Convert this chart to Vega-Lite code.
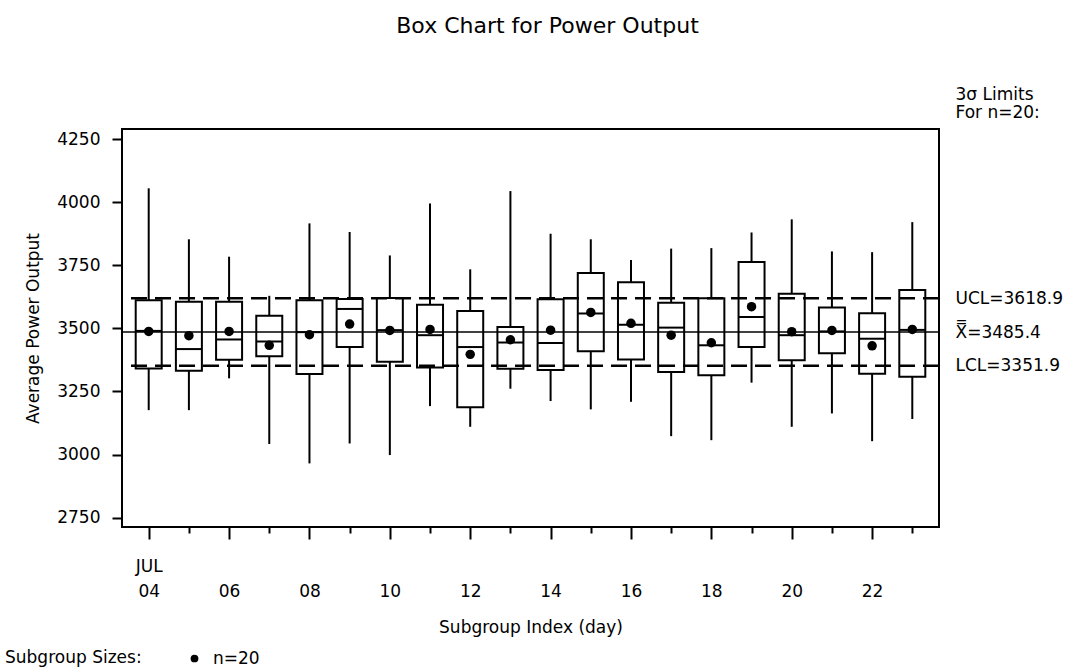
{
  "$schema": "https://vega.github.io/schema/vega-lite/v6.json",
  "autosize": "none",
  "width": 817,
  "height": 398,
  "padding": {"left": 122, "top": 129, "right": 135, "bottom": 145},
  "background": "white",
  "title": {
    "text": "Box Chart for Power Output",
    "font": "DejaVu Sans",
    "fontSize": 22,
    "fontWeight": "normal",
    "color": "black",
    "anchor": "middle",
    "frame": "group",
    "dx": 17,
    "offset": 47
  },
  "config": {
    "view": {"stroke": "black", "strokeWidth": 2},
    "axis": {
      "labelFont": "DejaVu Sans",
      "titleFont": "DejaVu Sans",
      "labelColor": "black",
      "titleColor": "black",
      "tickColor": "black",
      "labelFontSize": 17,
      "titleFontSize": 17,
      "titleFontWeight": "normal",
      "grid": false,
      "domain": false,
      "tickWidth": 2
    },
    "legend": {
      "labelFont": "DejaVu Sans",
      "titleFont": "DejaVu Sans"
    }
  },
  "datasets": {
    "boxes": [
      {"day": 4, "min": 3176, "q1": 3341, "median": 3490, "q3": 3611, "max": 4055, "mean": 3488},
      {"day": 5, "min": 3176, "q1": 3332, "median": 3418, "q3": 3606, "max": 3853, "mean": 3471},
      {"day": 6, "min": 3302, "q1": 3376, "median": 3456, "q3": 3606, "max": 3784, "mean": 3488},
      {"day": 7, "min": 3042, "q1": 3390, "median": 3448, "q3": 3550, "max": 3629, "mean": 3433},
      {"day": 8, "min": 2965, "q1": 3319, "median": 3485, "q3": 3611, "max": 3916, "mean": 3475},
      {"day": 9, "min": 3044, "q1": 3426, "median": 3577, "q3": 3616, "max": 3882, "mean": 3517},
      {"day": 10, "min": 2998, "q1": 3368, "median": 3493, "q3": 3620, "max": 3789, "mean": 3492},
      {"day": 11, "min": 3192, "q1": 3345, "median": 3473, "q3": 3594, "max": 3995, "mean": 3496},
      {"day": 12, "min": 3110, "q1": 3187, "median": 3426, "q3": 3569, "max": 3734, "mean": 3397},
      {"day": 13, "min": 3261, "q1": 3340, "median": 3444, "q3": 3505, "max": 4044, "mean": 3455},
      {"day": 14, "min": 3212, "q1": 3335, "median": 3442, "q3": 3615, "max": 3875, "mean": 3493},
      {"day": 15, "min": 3179, "q1": 3409, "median": 3559, "q3": 3719, "max": 3853, "mean": 3563},
      {"day": 16, "min": 3209, "q1": 3377, "median": 3514, "q3": 3683, "max": 3771, "mean": 3520},
      {"day": 17, "min": 3073, "q1": 3327, "median": 3503, "q3": 3602, "max": 3816, "mean": 3473},
      {"day": 18, "min": 3057, "q1": 3314, "median": 3433, "q3": 3619, "max": 3818, "mean": 3443},
      {"day": 19, "min": 3285, "q1": 3426, "median": 3545, "q3": 3763, "max": 3880, "mean": 3586},
      {"day": 20, "min": 3110, "q1": 3374, "median": 3473, "q3": 3637, "max": 3932, "mean": 3487},
      {"day": 21, "min": 3163, "q1": 3401, "median": 3488, "q3": 3583, "max": 3805, "mean": 3492},
      {"day": 22, "min": 3053, "q1": 3320, "median": 3459, "q3": 3560, "max": 3802, "mean": 3431},
      {"day": 23, "min": 3141, "q1": 3308, "median": 3494, "q3": 3652, "max": 3921, "mean": 3496}
    ],
    "limits": [
      {"name": "UCL", "value": 3618.9},
      {"name": "LCL", "value": 3351.9}
    ],
    "center": [
      {"name": "Xbar", "value": 3485.4}
    ]
  },
  "resolve": {"axis": {"x": "independent", "y": "independent"}},
  "layer": [
    {
      "data": {"name": "boxes"},
      "mark": {"type": "rule", "color": "black", "strokeWidth": 2},
      "encoding": {
        "x": {
          "field": "day", "type": "quantitative",
          "scale": {"domain": [3.46, 23.54], "nice": false, "zero": false},
          "axis": {
            "values": [4, 6, 8, 10, 12, 14, 16, 18, 20, 22],
            "tickSize": 12,
            "labelPadding": 19,
            "labelLineHeight": 25,
            "labelExpr": "[datum.value == 4 ? 'JUL' : ' ', (datum.value < 10 ? '0' : '') + datum.value]",
            "title": "Subgroup Index (day)",
            "titlePadding": 20
          }
        },
        "y": {
          "field": "min", "type": "quantitative",
          "scale": {"domain": [2713, 4290], "nice": false, "zero": false},
          "axis": {
            "values": [2750, 3000, 3250, 3500, 3750, 4000, 4250],
            "format": "d",
            "tickSize": 10,
            "labelPadding": 12,
            "title": "Average Power Output",
            "titlePadding": 14
          }
        },
        "y2": {"field": "max"}
      }
    },
    {
      "data": {"name": "boxes"},
      "mark": {"type": "bar", "width": 26, "fill": "white", "stroke": "black", "strokeWidth": 2},
      "encoding": {
        "x": {
          "field": "day", "type": "quantitative",
          "axis": {
            "values": [5, 7, 9, 11, 13, 15, 17, 19, 21, 23],
            "tickSize": 6,
            "labels": false,
            "title": null,
            "orient": "bottom"
          }
        },
        "y": {"field": "q1", "type": "quantitative", "axis": null},
        "y2": {"field": "q3"}
      }
    },
    {
      "data": {"name": "boxes"},
      "mark": {"type": "tick", "orient": "horizontal", "size": 26, "thickness": 2, "color": "black", "opacity": 1},
      "encoding": {
        "x": {"field": "day", "type": "quantitative", "axis": null},
        "y": {"field": "median", "type": "quantitative", "axis": null}
      }
    },
    {
      "data": {"name": "center"},
      "mark": {"type": "rule", "color": "black", "strokeWidth": 1.5},
      "encoding": {
        "y": {
          "field": "value", "type": "quantitative",
          "axis": {
            "orient": "right",
            "values": [3351.9, 3485.4, 3618.9],
            "ticks": false,
            "labelPadding": 16,
            "labelAlign": "left",
            "labelFontSize": 17,
            "labelExpr": "datum.value > 3600 ? 'UCL=3618.9' : (datum.value > 3400 ? 'X̿=3485.4' : 'LCL=3351.9')",
            "title": ["3σ Limits", "For n=20:"],
            "titleAngle": 0,
            "titleAlign": "left",
            "titleBaseline": "top",
            "titleFontSize": 17,
            "titleLineHeight": 18,
            "titleX": 16,
            "titleY": -43
          }
        }
      }
    },
    {
      "data": {"name": "limits"},
      "mark": {"type": "rule", "color": "black", "strokeWidth": 2.5, "strokeDash": [16, 8]},
      "encoding": {
        "y": {"field": "value", "type": "quantitative", "axis": null}
      }
    },
    {
      "data": {"name": "boxes"},
      "mark": {"type": "point", "filled": true, "size": 90, "color": "black", "opacity": 1},
      "encoding": {
        "x": {"field": "day", "type": "quantitative", "axis": null},
        "y": {"field": "mean", "type": "quantitative", "axis": null},
        "shape": {
          "datum": "n=20",
          "type": "nominal",
          "scale": {"range": ["circle"]},
          "legend": {
            "title": "Subgroup Sizes:",
            "orient": "none",
            "legendX": -117,
            "legendY": 521,
            "direction": "horizontal",
            "titleOrient": "left",
            "titleFontSize": 17,
            "titleFontWeight": "normal",
            "titleColor": "black",
            "titlePadding": 44,
            "labelFontSize": 17,
            "labelColor": "black",
            "labelOffset": 10,
            "symbolSize": 60,
            "symbolFillColor": "black",
            "symbolStrokeColor": "black"
          }
        }
      }
    }
  ]
}
